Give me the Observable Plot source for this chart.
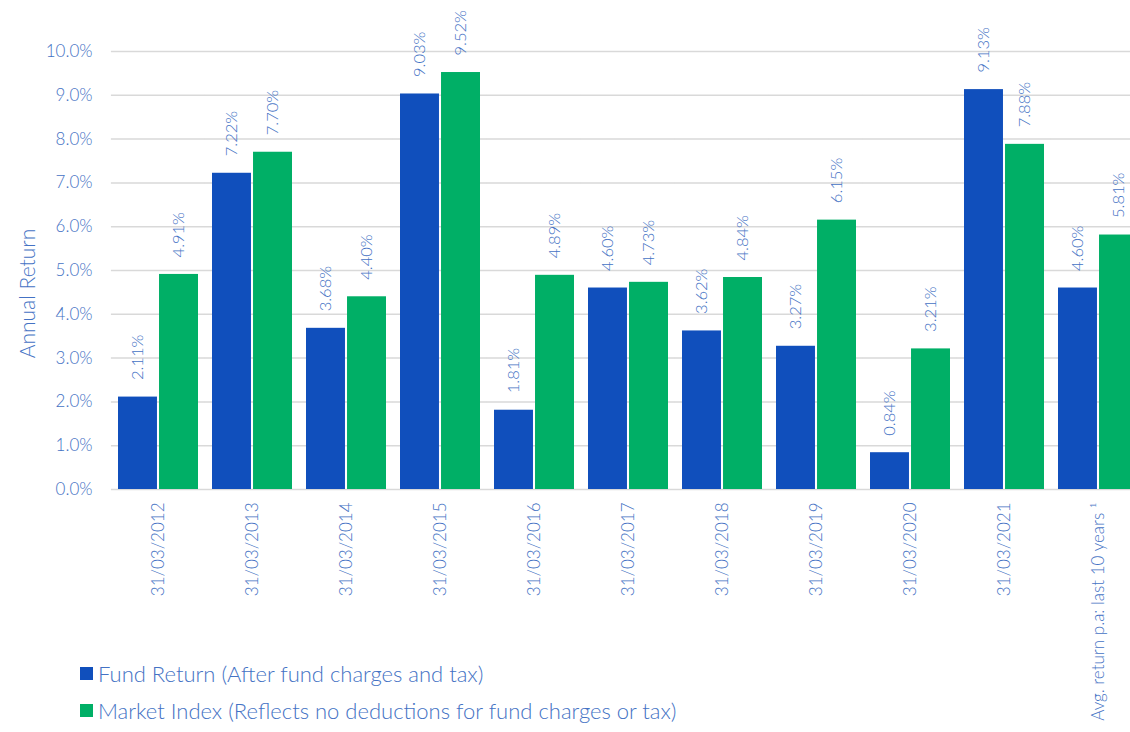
<!DOCTYPE html>
<html>
<head>
<meta charset="utf-8">
<script src="https://cdn.jsdelivr.net/npm/d3@7"></script>
<script src="https://cdn.jsdelivr.net/npm/@observablehq/plot@0.6"></script>
<style>
  body { margin: 0; background: #fff; font-family: Lato, "Open Sans", sans-serif; }
  #chart svg { overflow: visible; }
  .legend { margin-left: 80px; color: #4472c4; font-size: 22px; font-weight: 300; }
  .legend .item { display: flex; align-items: center; height: 37px; }
  .legend .sw { width: 13px; height: 13px; margin-right: 5px; }
</style>
</head>
<body>
<div id="chart"></div>
<div class="legend" id="legend"></div>
<script>
const categories = ["31/03/2012", "31/03/2013", "31/03/2014", "31/03/2015", "31/03/2016", "31/03/2017", "31/03/2018", "31/03/2019", "31/03/2020", "31/03/2021", "Avg. return p.a: last 10 years \u00b9"];
const seriesNames = ["Fund Return (After fund charges and tax)", "Market Index (Reflects no deductions for fund charges or tax)"];
const fundReturn = [2.11, 7.22, 3.68, 9.03, 1.81, 4.60, 3.62, 3.27, 0.84, 9.13, 4.60];
const marketIndex = [4.91, 7.70, 4.40, 9.52, 4.89, 4.73, 4.84, 6.15, 3.21, 7.88, 5.81];
const yTicks = [0, 1, 2, 3, 4, 5, 6, 7, 8, 9, 10];
const yTitle = "Annual Return";
const colors = ["#104fbc", "#00af66"];
const textColor = "#4472c4";

const data = [];
categories.forEach((c, i) => {
  data.push({category: c, series: seriesNames[0], value: fundReturn[i]});
  data.push({category: c, series: seriesNames[1], value: marketIndex[i]});
});

const chart = Plot.plot({
  width: 1130,
  height: 655,
  marginLeft: 111,
  marginRight: -15,
  marginTop: 51,
  marginBottom: 166,
  style: {fontFamily: "Lato, 'Open Sans', sans-serif", fontSize: "17px", color: textColor, fontWeight: 300, background: "white"},
  fx: {domain: categories, range: [111, 1145], paddingInner: 0.149, paddingOuter: 0.0745, round: false, tickRotate: -90, tickSize: 0, tickPadding: 13, label: null},
  x: {domain: seriesNames, paddingInner: 0.05, paddingOuter: 0, round: false, axis: null},
  y: {domain: [0, 10]},
  color: {domain: seriesNames, range: colors},
  marks: [
    Plot.ruleY(yTicks, {y: d => d, stroke: "#d9d9d9", strokeWidth: 1.5, insetLeft: -7.1, insetRight: -7.1}),
    Plot.axisY({ticks: yTicks, tickFormat: d => d.toFixed(1) + "%", tickSize: 0, tickPadding: 26, fontSize: 17, label: null}),
    Plot.text([yTitle], {text: d => d, frameAnchor: "left", rotate: -90, textAnchor: "middle", dx: -90, dy: 23, fontSize: 21, fill: textColor, facet: "super"}),
    Plot.barY(data, {fx: "category", x: "series", y: "value", fill: "series"}),
    Plot.text(data, {fx: "category", x: "series", y: "value", text: d => d.value.toFixed(2) + "%", rotate: -90, textAnchor: "start", dy: -17, fill: textColor, fontSize: 16.5})
  ]
});
document.getElementById("chart").appendChild(chart);

const legend = document.getElementById("legend");
seriesNames.forEach((s, i) => {
  const item = document.createElement("div");
  item.className = "item";
  const sw = document.createElement("span");
  sw.className = "sw";
  sw.style.background = colors[i];
  const t = document.createElement("span");
  t.textContent = s;
  item.appendChild(sw);
  item.appendChild(t);
  legend.appendChild(item);
});
</script>
</body>
</html>
